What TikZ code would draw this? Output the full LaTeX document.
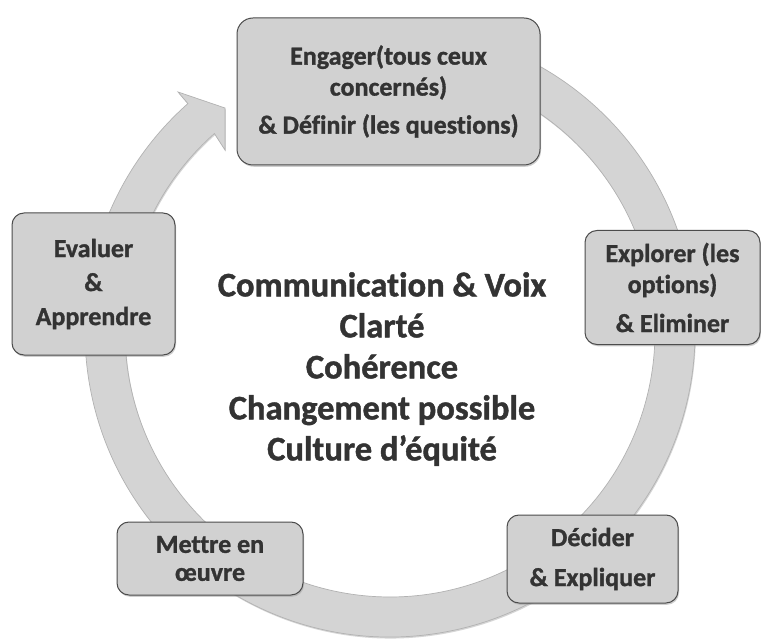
\documentclass[tikz,border=0pt]{standalone}
\usepackage{fontspec}
\setmainfont{Carlito}[Ligatures=NoCommon, BoldFeatures={FakeBold=1.2}]
\usetikzlibrary{calc,shadows}
\definecolor{txt}{gray}{0.2}
\definecolor{boxfill}{gray}{0.82}
\definecolor{ringfill}{gray}{0.83}
\definecolor{edge}{gray}{0.3}
\begin{document}
\begin{tikzpicture}[x=1pt,y=-1pt,
  stepbox/.style={draw=edge, line width=1pt, fill=boxfill, rounded corners=12pt,
    align=center, text=txt, font=\fontsize{26}{31}\selectfont\bfseries, inner sep=0pt,
    drop shadow={shadow xshift=1pt, shadow yshift=-1.8pt, fill=gray!75}},
  ringstyle/.style={fill=ringfill, draw=gray!60, line width=0.7pt,
    drop shadow={shadow xshift=0.8pt, shadow yshift=-1.5pt, fill=gray!65}},
  centretext/.style={text=txt, font=\fontsize{34.5}{41}\selectfont\bfseries, align=center}
  ]
\fill[white] (0,0) rectangle (761,639);
\useasboundingbox (0,0) rectangle (761,639);
\coordinate (C) at (390,332);
\coordinate (barbout) at (178,92);
\coordinate (headA) at (225,108);
\coordinate (headB) at (225,150);
% circular arrow
\path[ringstyle] ($(C)+(-100:305)$) arc[start angle=-100, end angle=228.5, radius=305]
  -- (barbout) -- (headA) -- (headB) -- ($(C)+(228.5:265)$)
  arc[start angle=228.5, end angle=-100, radius=265] -- cycle;
% boxes
\node[stepbox, minimum width=303pt, minimum height=147pt, rounded corners=16pt] (engager) at (388.5,91.5)
  {Engager(tous ceux\\concernés)\\[7pt]\& Définir (les questions)};
\node[stepbox, minimum width=175pt, minimum height=114pt] (explorer) at (672.5,287.5)
  {Explorer (les\\options)\\[8pt]\& Eliminer};
\node[stepbox, minimum width=171pt, minimum height=88pt] (decider) at (592.5,559)
  {Décider\\[9pt]\& Expliquer};
\node[stepbox, font=\fontsize{26}{28}\selectfont\bfseries, minimum width=186pt, minimum height=73pt] (mettre) at (210,558.5)
  {Mettre en\\œuvre};
\node[stepbox, minimum width=163pt, minimum height=142pt] (evaluer) at (93.5,284)
  {Evaluer\\[3pt]\&\\[3pt]Apprendre};
% centre text
\node[centretext] (centre) at (382,369)
  {Communication \& Voix\\Clarté\\Cohérence\\Changement possible\\Culture d’équité};
\end{tikzpicture}
\end{document}
